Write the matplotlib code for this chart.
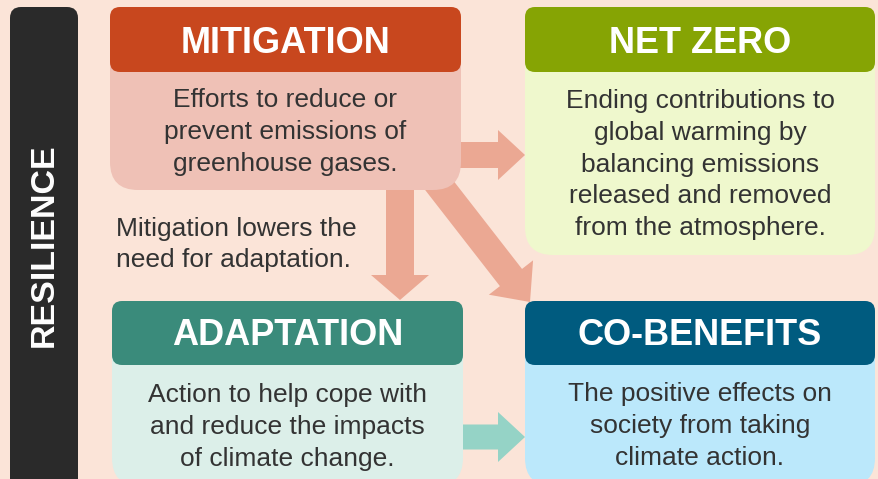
import matplotlib
matplotlib.use("Agg")
import matplotlib.pyplot as plt
from matplotlib.patches import FancyBboxPatch, FancyArrow

# ---- content ----
titles = ["MITIGATION", "NET ZERO", "ADAPTATION", "CO-BENEFITS"]
bodies = [
    ["Efforts to reduce or", "prevent emissions of", "greenhouse gases."],
    ["Ending contributions to", "global warming by", "balancing emissions",
     "released and removed", "from the atmosphere."],
    ["Action to help cope with", "and reduce the impacts", "of climate change."],
    ["The positive effects on", "society from taking", "climate action."],
]
side_label = "RESILIENCE"
note_lines = ["Mitigation lowers the", "need for adaptation."]

# ---- layout (pixels) ----
W, H = 879, 479
boxes = [  # x0, x1, header_top, header_bottom, body_bottom
    (110, 461, 7, 72, 190),
    (525, 875, 7, 72, 255),
    (112, 463, 301, 365, 486),
    (525, 875, 301, 365, 486),
]
header_colors = ["#c8471e", "#86a404", "#3a8b7b", "#005b7f"]
body_colors = ["#efc1b6", "#eff8cd", "#dcefe9", "#bbe8fb"]
title_baselines = [53, 53, 345, 345]
body_first_baseline = [107, 108, 402, 401]
line_step = 31.8

bg = "#fbe4d8"
text_col = "#333333"
salmon = "#eba893"
teal = "#95d3c6"

fig = plt.figure(figsize=(W / 100, H / 100), dpi=100)
fig.patch.set_facecolor(bg)
ax = fig.add_axes([0, 0, 1, 1])
ax.set_xlim(0, W)
ax.set_ylim(H, 0)
ax.set_aspect("equal")
ax.axis("off")
ax.set_facecolor(bg)

FONT = "Liberation Sans"

# resilience bar
ax.add_patch(FancyBboxPatch((10, 7), 68, 500, boxstyle="round,pad=0,rounding_size=11",
                            fc="#2a2a2a", ec="none", zorder=2))
ax.text(44, 245, side_label, rotation=90, ha="center", va="center", color="white",
        fontsize=24.5, fontweight="bold", family=FONT, zorder=5)

# arrows
arrow_kw = dict(length_includes_head=True, ec="none", zorder=1)
ax.add_patch(FancyArrow(455, 155, 70, 0, width=26, head_width=50, head_length=27, fc=salmon, **arrow_kw))
ax.add_patch(FancyArrow(400, 185, 0, 115, width=28, head_width=58, head_length=25, fc=salmon, **arrow_kw))
ax.add_patch(FancyArrow(418, 158, 112, 144, width=28, head_width=56, head_length=31, fc=salmon, **arrow_kw))
ax.add_patch(FancyArrow(458, 437, 67, 0, width=25, head_width=50, head_length=27, fc=teal, **arrow_kw))

# boxes
for (x0, x1, ht, hb, bb), hc, bc, t, tb, lines, fb in zip(
        boxes, header_colors, body_colors, titles, title_baselines, bodies, body_first_baseline):
    ax.add_patch(FancyBboxPatch((x0, ht), x1 - x0, bb - ht,
                                boxstyle="round,pad=0,rounding_size=28",
                                fc=bc, ec="none", zorder=2))
    ax.add_patch(FancyBboxPatch((x0, ht), x1 - x0, hb - ht,
                                boxstyle="round,pad=0,rounding_size=10",
                                fc=hc, ec="none", zorder=3))
    cx = (x0 + x1) / 2
    ax.text(cx, tb, t, ha="center", va="baseline", color="white", fontsize=26,
            fontweight="bold", family=FONT, zorder=5)
    for i, ln in enumerate(lines):
        ax.text(cx, fb + i * line_step, ln, ha="center", va="baseline", color=text_col,
                fontsize=19, family=FONT, zorder=5)

for i, ln in enumerate(note_lines):
    ax.text(116, 236 + i * 31, ln, ha="left", va="baseline", color=text_col,
            fontsize=19, family=FONT, zorder=5)

fig.savefig("out.png", dpi=100, facecolor=bg)
